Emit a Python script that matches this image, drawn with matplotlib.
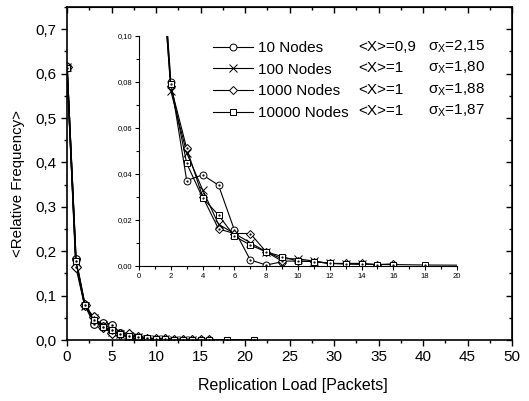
import matplotlib
matplotlib.use("Agg")
import matplotlib.pyplot as plt
from matplotlib.ticker import MultipleLocator, FuncFormatter

plt.rcParams['font.family'] = ['Liberation Sans', 'DejaVu Sans']
plt.rcParams['mathtext.fontset'] = 'custom'
plt.rcParams['mathtext.rm'] = 'Liberation Sans'
plt.rcParams['mathtext.it'] = 'Liberation Sans'

# ---- data ----
x10 = [0, 1, 2, 3, 4, 5, 6, 7, 8, 9]
y10 = [0.615, 0.182, 0.080, 0.037, 0.0395, 0.035, 0.0155, 0.0025, 0.0003, 0.0017]

x100 = [0, 1, 2, 3, 4, 5, 6, 7, 8, 9, 10, 11, 12, 13, 14]
y100 = [0.615, 0.176, 0.076, 0.049, 0.033, 0.018, 0.014, 0.010, 0.006, 0.003, 0.003, 0.002, 0.001, 0.0008, 0.0006]

x1000 = [0, 1, 2, 3, 4, 5, 6, 7, 8, 9, 10, 11, 12, 13, 14, 15, 16]
y1000 = [0.615, 0.165, 0.078, 0.051, 0.030, 0.016, 0.014, 0.014, 0.006, 0.002, 0.002, 0.0018, 0.001, 0.001, 0.001, 0.0005, 0.0008]

x10000 = [0, 1, 2, 3, 4, 5, 6, 7, 8, 9, 10, 11, 12, 13, 14, 15, 16, 18, 21]
y10000 = [0.612, 0.178, 0.079, 0.0445, 0.0295, 0.022, 0.0128, 0.009, 0.006, 0.004, 0.002, 0.0018, 0.001, 0.0008, 0.0007, 0.0005, 0.0005, 0.0003, 0.0002]

labels = ['10 Nodes', '100 Nodes', '1000 Nodes', '10000 Nodes']
means = ['<X>=0,9', '<X>=1', '<X>=1', '<X>=1']
sigmas = ['2,15', '1,80', '1,88', '1,87']
series = [(x10, y10, 'o'), (x100, y100, 'x'), (x1000, y1000, 'D'), (x10000, y10000, 's')]

fig = plt.figure(figsize=(5.29, 4.01), dpi=100)
ax = fig.add_axes([0.1267, 0.152, 0.8413, 0.8305])

def comma(fmt):
    return FuncFormatter(lambda v, p: (fmt % v).replace('.', ','))

msize = {'o': 5.5, 'x': 6, 'D': 4.8, 's': 4.8}
for xs, ys, m in series:
    ax.plot(xs, ys, color='black', lw=1.1, marker=m, ms=msize[m],
            mfc='white', mec='black', mew=0.8)
    if m != 'x':
        ax.plot(xs, ys, ls='none', marker='.', ms=1.5, color='black')

ax.set_xlim(0, 50)
ax.set_ylim(0, 0.75)
ax.xaxis.set_major_locator(MultipleLocator(5))
ax.xaxis.set_minor_locator(MultipleLocator(2.5))
ax.yaxis.set_major_locator(MultipleLocator(0.1))
ax.yaxis.set_minor_locator(MultipleLocator(0.05))
ax.yaxis.set_major_formatter(comma('%.1f'))
ax.xaxis.set_major_formatter(FuncFormatter(lambda v, p: '%d' % v))
ax.tick_params(which='major', direction='out', length=4, width=1, labelsize=11)
ax.tick_params(which='minor', direction='out', length=2.5, width=1)
for s in ax.spines.values():
    s.set_linewidth(1.2)

top = ax.secondary_xaxis('top')
top.xaxis.set_major_locator(MultipleLocator(5))
top.xaxis.set_minor_locator(MultipleLocator(2.5))
top.tick_params(which='major', direction='in', length=4, width=1, labeltop=False)
top.tick_params(which='minor', direction='in', length=2.5, width=1)
right = ax.secondary_yaxis('right')
right.yaxis.set_major_locator(MultipleLocator(0.1))
right.yaxis.set_minor_locator(MultipleLocator(0.05))
right.tick_params(which='major', direction='in', length=4, width=1, labelright=False)
right.tick_params(which='minor', direction='in', length=2.5, width=1)

ax.set_xlabel('Replication Load [Packets]', fontsize=11.5)
ax.set_ylabel('<Relative Frequency>', fontsize=10.8)
ax.xaxis.set_label_coords((293 - 67) / 445, (340 - 385) / 333, transform=ax.transAxes)
ax.yaxis.set_label_coords((18 - 67) / 445, (340 - 184) / 333, transform=ax.transAxes)
ax.xaxis.label.set_va('center')
ax.yaxis.label.set_va('center')

# ---- inset ----
ai = fig.add_axes([0.2628, 0.3374, 0.601, 0.5736])
ai.patch.set_alpha(0)
handles = []
for (xs, ys, m), lab in zip(series, labels):
    h, = ai.plot(xs, ys, color='black', lw=0.8, marker=m, ms=msize[m] * 0.9,
                 mfc='white', mec='black', mew=0.7, label=lab)
    if m != 'x':
        ai.plot(xs, ys, ls='none', marker='.', ms=1.2, color='black')
    handles.append(h)
ai.set_xlim(0, 20)
ai.set_ylim(0, 0.10)
ai.spines['top'].set_visible(False)
ai.spines['right'].set_visible(False)
ai.xaxis.set_major_locator(MultipleLocator(2))
ai.xaxis.set_minor_locator(MultipleLocator(1))
ai.yaxis.set_major_locator(MultipleLocator(0.02))
ai.yaxis.set_minor_locator(MultipleLocator(0.01))
ai.yaxis.set_major_formatter(comma('%.2f'))
ai.tick_params(which='major', direction='out', length=3, width=0.8, labelsize=5.5, pad=2)
ai.tick_params(which='minor', direction='out', length=2, width=0.8)

leg = ai.legend(handles=handles, labels=labels, loc='upper left',
                bbox_to_anchor=(213 / 529, 1 - 41 / 401), bbox_transform=fig.transFigure,
                frameon=False, fontsize=11, handlelength=2.65, handletextpad=0.3,
                labelspacing=0.5, borderpad=0, borderaxespad=0)

rows_y = [47, 68, 90, 111]
for yy, mtxt, stxt in zip(rows_y, means, sigmas):
    fig.text(358 / 529, 1 - yy / 401, mtxt, fontsize=11, va='center', ha='left')
    fig.text(428 / 529, 1 - yy / 401, r'$\sigma_{\mathrm{X}}$=' + stxt, fontsize=11,
             va='center', ha='left')

fig.savefig('out.png', dpi=100)
